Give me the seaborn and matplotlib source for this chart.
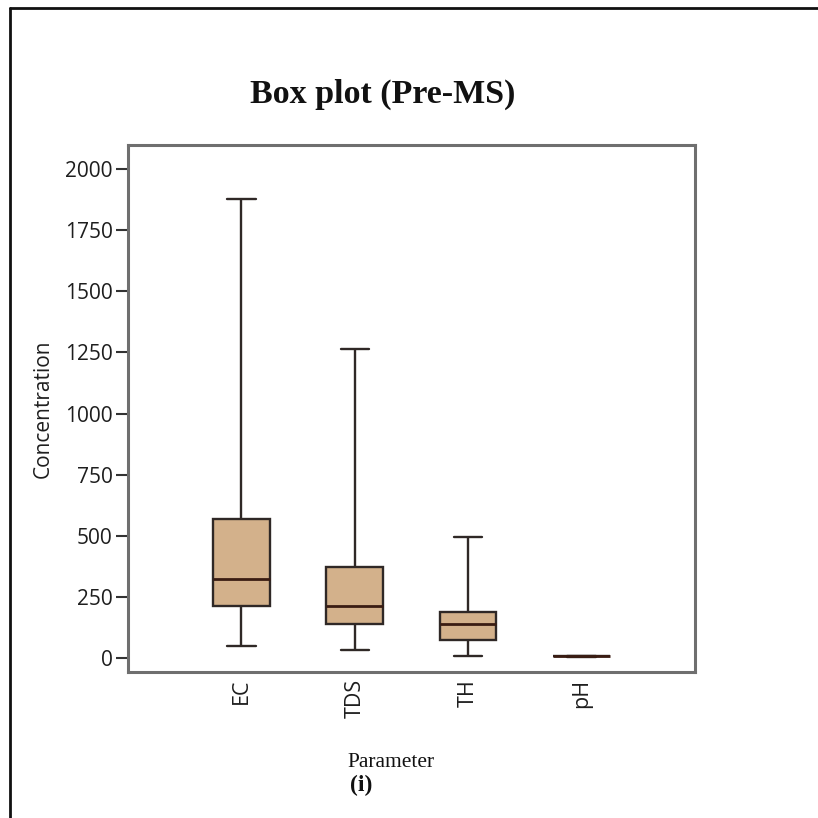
import matplotlib
matplotlib.use("Agg")
import matplotlib.pyplot as plt
from matplotlib.lines import Line2D
import seaborn as sns
import pandas as pd

# Five-number summaries (min, Q1, median, Q3, max) for each parameter
parameters = ["EC", "TDS", "TH", "pH"]
ec_stats = [50, 212, 325, 567, 1877]
tds_stats = [33, 139, 213, 372, 1265]
th_stats = [8, 74, 139, 188, 497]
ph_stats = [6.2, 6.9, 7.3, 7.8, 8.5]

yticks = [0, 250, 500, 750, 1000, 1250, 1500, 1750, 2000]

frames = []
for name, vals in zip(parameters, [ec_stats, tds_stats, th_stats, ph_stats]):
    frames.append(pd.DataFrame({"Parameter": name, "Concentration": vals}))
df = pd.concat(frames, ignore_index=True)

sns.set_theme(style="white")
plt.rcParams["font.family"] = ["Open Sans", "DejaVu Sans"]

fig = plt.figure(figsize=(8.18, 8.18), dpi=100)
ax = fig.add_axes([0.1565, 0.1785, 0.693, 0.644])

edge = "#2f2826"
sns.boxplot(
    data=df, x="Parameter", y="Concentration", order=parameters,
    whis=(0, 100), width=0.5, color="#d3b18b", saturation=1,
    linecolor=edge, linewidth=1.7,
    medianprops={"color": "#3a1c12", "linewidth": 2.0},
    ax=ax,
)

ax.set_xlim(-1, 4)
ax.set_ylim(-57, 2098)
ax.set_yticks(yticks)
ax.set_yticklabels([str(t) for t in yticks], fontsize=15, color="#1e1e1e")
ax.set_xticks(range(len(parameters)))
ax.set_xticklabels(parameters, rotation=90, fontsize=15.5, color="#1e1e1e")
ax.tick_params(axis="y", direction="out", length=9, width=1.5, color="#333333", pad=2, left=True)
ax.tick_params(axis="x", length=0, pad=5)

for side in ["left", "right", "top", "bottom"]:
    ax.spines[side].set_visible(True)
    ax.spines[side].set_color("#6f6f6f")
    ax.spines[side].set_linewidth(2.2)

ax.set_ylabel("Concentration", fontsize=15, color="#1e1e1e", labelpad=8)
ax.set_xlabel("")

fig.text(0.468, 0.885, "Box plot (Pre-MS)", ha="center", va="center",
         family="Liberation Serif", fontweight="bold", fontsize=24.5, color="#111111")
fig.text(0.478, 0.068, "Parameter", ha="center", va="center",
         family="Liberation Serif", fontsize=15.5, color="#111111")
fig.text(0.442, 0.040, "(i)", ha="center", va="center",
         family="Liberation Serif", fontweight="bold", fontsize=17, color="#111111")

# Outer panel border (left and top edges)
fig.add_artist(Line2D([10 / 818, 10 / 818], [0, 1 - 8 / 818], transform=fig.transFigure,
                      color="#111111", linewidth=2))
fig.add_artist(Line2D([10 / 818, 1], [1 - 8 / 818, 1 - 8 / 818], transform=fig.transFigure,
                      color="#111111", linewidth=2))

fig.savefig("out.png", dpi=100, facecolor="white")
